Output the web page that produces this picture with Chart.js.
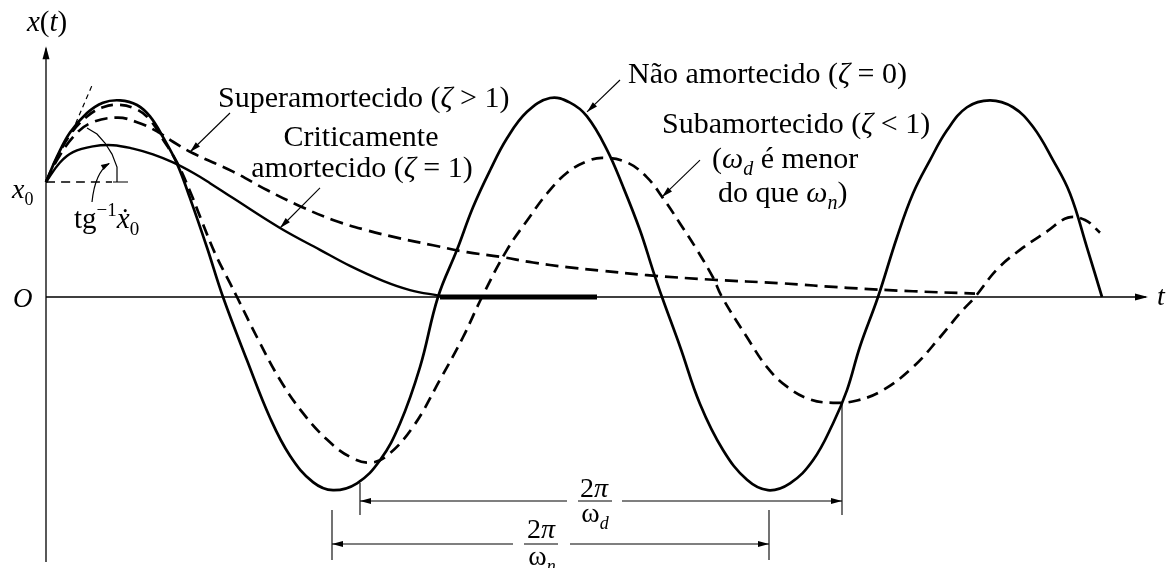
<!DOCTYPE html>
<html>
<head>
<meta charset="utf-8">
<script src="https://cdn.jsdelivr.net/npm/chart.js@4.4.1/dist/chart.umd.min.js"></script>
<style>
  html, body { margin: 0; padding: 0; background: #fff; }
  #wrap { width: 1174px; height: 568px; position: relative; }
</style>
</head>
<body>
<div id="wrap"><canvas id="chart"></canvas></div>
<script>
// --- Data (t in arbitrary time units, x in units of x0) ---
const undampedT = [0, 0.11, 0.24, 0.41, 0.57, 0.74, 0.91, 1.04, 1.17, 1.31, 1.44, 1.61, 1.77, 2.01, 2.24, 2.44, 2.67, 2.87, 3.11, 3.34,
                   3.54, 3.74, 3.92, 4.11, 4.27, 4.44, 4.61, 4.81, 5.04, 5.24, 5.41, 5.61, 5.77, 5.94, 6.07, 6.16, 6.34, 6.54, 6.77, 7.01,
                   7.22, 7.44, 7.67, 7.87, 8.01, 8.14, 8.32, 8.51, 8.67, 8.84, 9.01, 9.21, 9.44, 9.67, 9.87, 10.07, 10.24, 10.41, 10.56];
const undampedX = [1.00, 1.22, 1.43, 1.60, 1.69, 1.71, 1.67, 1.57, 1.39, 1.16, 0.86, 0.43, 0.00, -0.55, -1.05, -1.38, -1.61, -1.68, -1.62, -1.42,
                   -1.10, -0.61, 0.00, 0.41, 0.78, 1.10, 1.38, 1.61, 1.73, 1.69, 1.57, 1.28, 0.96, 0.58, 0.23, 0.00, -0.43, -0.93, -1.33, -1.59,
                   -1.68, -1.62, -1.42, -1.10, -0.81, -0.43, 0.00, 0.52, 0.90, 1.19, 1.45, 1.65, 1.71, 1.65, 1.48, 1.19, 0.90, 0.43, 0.00];

const underdampedT = [0, 0.11, 0.24, 0.41, 0.57, 0.74, 0.91, 1.04, 1.17, 1.31, 1.44, 1.54, 1.69, 1.84, 1.91, 2.11, 2.34, 2.57, 2.81, 3.04,
                      3.24, 3.41, 3.67, 3.94, 4.17, 4.36, 4.61, 4.84, 5.01, 5.21, 5.41, 5.57, 5.81, 6.01, 6.17, 6.34, 6.51, 6.67, 6.76, 7.01,
                      7.21, 7.41, 7.64, 7.87, 8.11, 8.37, 8.67, 8.94, 9.14, 9.29, 9.51, 9.74, 10.01, 10.22, 10.39, 10.54];
const underdampedX = [1.00, 1.21, 1.41, 1.57, 1.65, 1.67, 1.63, 1.54, 1.37, 1.17, 0.92, 0.70, 0.38, 0.12, 0.00, -0.35, -0.72, -1.01, -1.24, -1.39,
                      -1.44, -1.38, -1.13, -0.72, -0.35, 0.00, 0.41, 0.70, 0.90, 1.08, 1.18, 1.21, 1.17, 1.04, 0.86, 0.64, 0.41, 0.17, 0.00, -0.35,
                      -0.61, -0.78, -0.89, -0.92, -0.90, -0.81, -0.61, -0.35, -0.14, 0.00, 0.24, 0.41, 0.57, 0.69, 0.67, 0.56];

const criticalT = [0, 0.14, 0.27, 0.47, 0.67, 0.87, 1.07, 1.27, 1.47, 1.64, 1.87, 2.34, 2.74, 3.04, 3.37, 3.64, 3.94];
const criticalX = [1.00, 1.17, 1.26, 1.31, 1.32, 1.29, 1.24, 1.17, 1.08, 0.99, 0.86, 0.60, 0.41, 0.27, 0.14, 0.06, 0.01];
const restT = [3.94, 5.51];
const restX = [0, 0];

const overdampedT = [0, 0.11, 0.27, 0.44, 0.71, 0.91, 1.11, 1.27, 1.47, 1.87, 2.21, 2.54, 2.87, 3.21, 3.54, 3.87, 4.21, 4.54, 4.87, 5.21,
                     5.54, 6.01, 6.67, 7.34, 8.01, 8.67, 9.29];
const overdampedX = [1.00, 1.19, 1.39, 1.51, 1.56, 1.52, 1.44, 1.35, 1.25, 1.09, 0.93, 0.79, 0.67, 0.58, 0.51, 0.45, 0.39, 0.35, 0.30, 0.26,
                     0.23, 0.19, 0.15, 0.12, 0.08, 0.05, 0.03];

const tangentT = [0.26, 0.47];
const tangentX = [1.435, 1.86];
const x0LineT = [0, 0.66];
const x0LineX = [1, 1];

const pts = (ts, xs) => ts.map((t, i) => ({ x: t, y: xs[i] }));

// --- Drawing helpers ---
const SERIF = '"Liberation Serif", "DejaVu Serif", serif';

function runFont(kind, size) {
    const small = Math.round(size * 0.66);
    switch (kind) {
        case 'i': return { font: `italic ${size}px ${SERIF}`, dy: 0 };
        case 's': return { font: `italic ${small}px ${SERIF}`, dy: size * 0.24 };
        case 'b': return { font: `${small}px ${SERIF}`, dy: size * 0.24 };
        case 'p': return { font: `${small}px ${SERIF}`, dy: -size * 0.42 };
        default: return { font: `${size}px ${SERIF}`, dy: 0 };
    }
}

function drawRuns(ctx, runs, x, y, size, align) {
    let w = 0;
    runs.forEach(([s, k]) => { ctx.font = runFont(k, size).font; w += ctx.measureText(s).width; });
    let cx = align === 'center' ? x - w / 2 : x;
    ctx.textAlign = 'left';
    ctx.textBaseline = 'alphabetic';
    runs.forEach(([s, k]) => {
        const f = runFont(k, size);
        ctx.font = f.font;
        ctx.fillText(s, cx, y + f.dy);
        cx += ctx.measureText(s).width;
    });
}

function arrowHead(ctx, x1, y1, x2, y2, len, half) {
    const a = Math.atan2(y2 - y1, x2 - x1);
    ctx.beginPath();
    ctx.moveTo(x2, y2);
    ctx.lineTo(x2 - len * Math.cos(a) + half * Math.sin(a), y2 - len * Math.sin(a) - half * Math.cos(a));
    ctx.lineTo(x2 - len * Math.cos(a) - half * Math.sin(a), y2 - len * Math.sin(a) + half * Math.cos(a));
    ctx.closePath();
    ctx.fill();
}

const figurePlugin = {
    id: 'figure',
    beforeDatasetsDraw(chart) {
        const { ctx, scales: { x: xs, y: ys } } = chart;
        const X = t => xs.getPixelForValue(t);
        const Y = v => ys.getPixelForValue(v);
        ctx.save();
        ctx.strokeStyle = '#000';
        ctx.fillStyle = '#000';
        ctx.lineWidth = 1.3;
        // axes
        ctx.beginPath();
        ctx.moveTo(X(0), Y(-2.304)); ctx.lineTo(X(0), Y(2.16));
        ctx.moveTo(X(0), Y(0)); ctx.lineTo(X(11.0), Y(0));
        ctx.stroke();
        arrowHead(ctx, X(0), Y(0), X(0), Y(2.18), 13, 3.5);
        arrowHead(ctx, X(0), Y(0), X(11.02), Y(0), 13, 3.5);
        ctx.restore();
    },
    afterDatasetsDraw(chart) {
        const { ctx, scales: { x: xs, y: ys } } = chart;
        const X = t => xs.getPixelForValue(t);
        const Y = v => ys.getPixelForValue(v);
        ctx.save();
        ctx.strokeStyle = '#000';
        ctx.fillStyle = '#000';

        // angle arc and its end mark
        ctx.lineWidth = 1.2;
        ctx.beginPath();
        [[0.41, 1.47], [0.51, 1.417], [0.59, 1.339], [0.66, 1.243], [0.71, 1.13]].forEach(([t, v], i) =>
            i ? ctx.lineTo(X(t), Y(v)) : ctx.moveTo(X(t), Y(v)));
        ctx.lineTo(X(0.71), Y(1.0));
        ctx.moveTo(X(0.67), Y(1.0)); ctx.lineTo(X(0.82), Y(1.0));
        ctx.stroke();

        // curved leader from tg^-1 label
        ctx.beginPath();
        ctx.moveTo(X(0.46), Y(0.826));
        ctx.quadraticCurveTo(X(0.49), Y(1.08), X(0.63), Y(1.16));
        ctx.stroke();
        arrowHead(ctx, X(0.55), Y(1.12), X(0.64), Y(1.165), 9, 2.8);

        // leader arrows to curves
        const leaders = [
            [1.84, 1.600, 1.44, 1.261],
            [2.74, 0.948, 2.34, 0.600],
            [5.74, 1.887, 5.41, 1.609],
            [6.54, 1.191, 6.16, 0.870]
        ];
        ctx.lineWidth = 1.1;
        leaders.forEach(([t1, v1, t2, v2]) => {
            ctx.beginPath();
            ctx.moveTo(X(t1), Y(v1)); ctx.lineTo(X(t2), Y(v2));
            ctx.stroke();
            arrowHead(ctx, X(t1), Y(v1), X(t2), Y(v2), 11, 3);
        });

        // period brackets
        const brackets = [
            // y, tLeft, tRight, gapL, gapR, leftTick[v1,v2], rightTick[v1,v2]
            [-1.774, 3.14, 7.96, 5.21, 5.76, [-1.617, -1.896], [-0.922, -1.896]],
            [-2.148, 2.86, 7.23, 4.67, 5.24, [-1.852, -2.287], [-1.852, -2.287]]
        ];
        ctx.lineWidth = 1.1;
        brackets.forEach(([v, tl, tr, gl, gr, lt, rt]) => {
            ctx.beginPath();
            ctx.moveTo(X(tl), Y(v)); ctx.lineTo(X(gl), Y(v));
            ctx.moveTo(X(gr), Y(v)); ctx.lineTo(X(tr), Y(v));
            ctx.moveTo(X(tl), Y(lt[0])); ctx.lineTo(X(tl), Y(lt[1]));
            ctx.moveTo(X(tr), Y(rt[0])); ctx.lineTo(X(tr), Y(rt[1]));
            ctx.stroke();
            arrowHead(ctx, X(gl), Y(v), X(tl), Y(v), 11, 3);
            arrowHead(ctx, X(gr), Y(v), X(tr), Y(v), 11, 3);
        });

        // fractions 2π/ωd and 2π/ωn
        ctx.lineWidth = 1.2;
        ctx.beginPath();
        ctx.moveTo(X(5.32), Y(-1.774)); ctx.lineTo(X(5.66), Y(-1.774));
        ctx.moveTo(X(4.78), Y(-2.148)); ctx.lineTo(X(5.12), Y(-2.148));
        ctx.stroke();
        drawRuns(ctx, [['2', ''], ['π', 'i']], X(5.48), Y(-1.739), 28, 'center');
        drawRuns(ctx, [['ω', ''], ['d', 's']], X(5.49), Y(-1.96), 28, 'center');
        drawRuns(ctx, [['2', ''], ['π', 'i']], X(4.95), Y(-2.096), 28, 'center');
        drawRuns(ctx, [['ω', ''], ['n', 's']], X(4.96), Y(-2.33), 28, 'center');

        // curve labels
        const L = 30;
        drawRuns(ctx, [['Superamortecido (', ''], ['ζ', 'i'], [' > 1)', '']], X(1.72), Y(1.652), L, 'left');
        drawRuns(ctx, [['Criticamente', '']], X(3.15), Y(1.313), L, 'center');
        drawRuns(ctx, [['amortecido (', ''], ['ζ', 'i'], [' = 1)', '']], X(3.16), Y(1.043), L, 'center');
        drawRuns(ctx, [['Não amortecido (', ''], ['ζ', 'i'], [' = 0)', '']], X(5.82), Y(1.861), L, 'left');
        drawRuns(ctx, [['Subamortecido (', ''], ['ζ', 'i'], [' < 1)', '']], X(6.16), Y(1.426), L, 'left');
        drawRuns(ctx, [['(', ''], ['ω', 'i'], ['d', 's'], [' é menor', '']], X(6.66), Y(1.122), L, 'left');
        drawRuns(ctx, [['do que ', ''], ['ω', 'i'], ['n', 's'], [')', '']], X(6.72), Y(0.826), L, 'left');

        // axis labels
        drawRuns(ctx, [['x', 'i'], ['(', ''], ['t', 'i'], [')', '']], X(-0.19), Y(2.313), 29, 'left');
        drawRuns(ctx, [['O', 'i']], X(-0.33), Y(-0.087), 27, 'left');
        drawRuns(ctx, [['x', 'i'], ['0', 'b']], X(-0.34), Y(0.861), 28, 'left');
        drawRuns(ctx, [['t', 'i']], X(11.11), Y(-0.07), 28, 'left');
        drawRuns(ctx, [['tg', ''], ['−1', 'p'], ['ẋ', 'i'], ['0', 'b']], X(0.28), Y(0.6), 29, 'left');
        ctx.restore();
    }
};

// --- Chart ---
function initChart() {
    const solid = (data, w) => ({
        data, borderColor: '#000', borderWidth: w, pointRadius: 0,
        tension: 0.4, fill: false
    });
    const dashed = (data, w, dash) => ({ ...solid(data, w), borderDash: dash });

    new Chart(document.getElementById('chart').getContext('2d'), {
        type: 'line',
        data: {
            datasets: [
                { label: 'Não amortecido', ...solid(pts(undampedT, undampedX), 2.7) },
                { label: 'Subamortecido', ...dashed(pts(underdampedT, underdampedX), 2.7, [12, 7]) },
                { label: 'Criticamente amortecido', ...solid(pts(criticalT, criticalX), 2.4) },
                { label: 'Repouso', ...solid(pts(restT, restX), 5) },
                { label: 'Superamortecido', ...dashed(pts(overdampedT, overdampedX), 2.7, [13, 7]) },
                { label: 'Tangente', ...dashed(pts(tangentT, tangentX), 1.2, [5, 4]) },
                { label: 'x0', ...dashed(pts(x0LineT, x0LineX), 1.3, [9, 6]) }
            ]
        },
        options: {
            responsive: true,
            maintainAspectRatio: false,
            animation: false,
            events: [],
            layout: { padding: 0 },
            plugins: { legend: { display: false }, tooltip: { enabled: false } },
            scales: {
                x: { type: 'linear', display: false, min: -0.46, max: 11.28 },
                y: { type: 'linear', display: false, min: -2.3565, max: 2.5826 }
            }
        },
        plugins: [figurePlugin]
    });
}

document.addEventListener('DOMContentLoaded', initChart);
</script>
</body>
</html>
